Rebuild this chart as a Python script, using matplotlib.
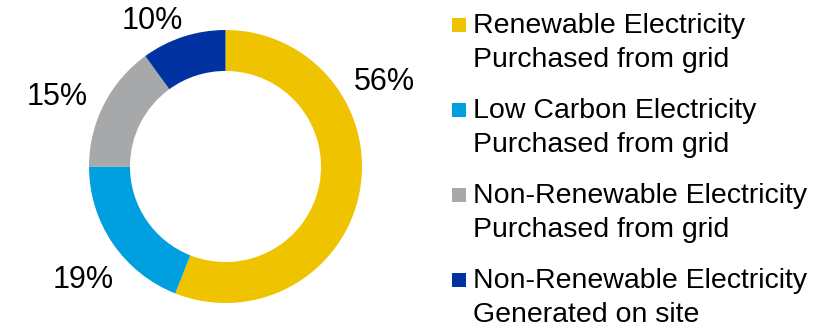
import matplotlib
matplotlib.use("Agg")
import matplotlib.pyplot as plt
from matplotlib.patches import Rectangle

plt.rcParams['font.family'] = ['Liberation Sans', 'DejaVu Sans']

# electricity mix, percent of total
categories = [
    'Renewable Electricity\nPurchased from grid',
    'Low Carbon Electricity\nPurchased from grid',
    'Non-Renewable Electricity\nPurchased from grid',
    'Non-Renewable Electricity\nGenerated on site',
]
shares = [56, 19, 15, 10]
colors = ['#F0C300', '#009FDF', '#A7A8AA', '#0033A1']

# hand-placed label spots (data coords, baseline)
label_pos = [(1.165, 0.560), (-1.040, -0.890), (-1.231, 0.450), (-0.535, 1.007)]

W, H = 830, 327
fig = plt.figure(figsize=(W / 100, H / 100), dpi=100)
ax = fig.add_axes([89 / W, 24 / H, 273 / W, 273 / H])

ax.pie(shares, colors=colors, startangle=90, counterclock=False, radius=1,
       wedgeprops=dict(width=0.30, linewidth=0))
ax.set_xlim(-1, 1)
ax.set_ylim(-1, 1)
ax.set_aspect('equal')
ax.axis('off')

for val, (x, y) in zip(shares, label_pos):
    ax.text(x, y, f'{val}%', ha='center', va='baseline', fontsize=22, color='black')

# legend: square per entry, text lines to the right
x_box, x_txt = 452, 473
for i, (lab, c) in enumerate(zip(categories, colors)):
    base = 33 + 85 * i
    fig.patches.append(Rectangle((x_box / W, 1 - (base - 1) / H), 14 / W, 14 / H,
                                 transform=fig.transFigure, color=c, linewidth=0))
    for j, line in enumerate(lab.split('\n')):
        fig.text(x_txt / W, 1 - (base + 34 * j) / H, line, fontsize=20.5,
                 ha='left', va='baseline', color='black')

fig.savefig('out.png', dpi=100)
